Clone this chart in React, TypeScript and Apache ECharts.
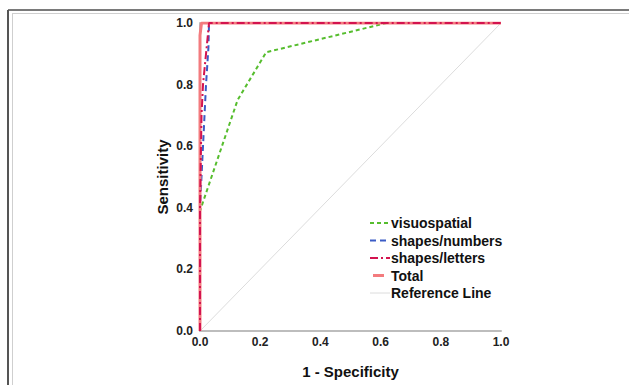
import React, { useEffect, useRef } from "react";
import * as echarts from "echarts";

const seriesNames = ["visuospatial", "shapes/numbers", "shapes/letters", "Total", "Reference Line"];

const visuoX = [0, 0, 0.125, 0.22, 0.62, 1];
const visuoY = [0, 0.39, 0.75, 0.905, 1, 1];

const numbersX = [0, 0, 0.005, 0.01, 0.02, 0.028, 0.03, 1];
const numbersY = [0, 0.4, 0.5, 0.6, 0.8, 0.92, 1, 1];

const lettersX = [0, 0, 0.005, 0.01, 0.02, 0.03, 1];
const lettersY = [0, 0.4, 0.7, 0.8, 0.9, 1, 1];

const totalX = [0, 0, 0.005, 1];
const totalY = [0, 0.96, 1, 1];

const refX = [0, 1];
const refY = [0, 1];

const tickValues = [0, 0.2, 0.4, 0.6, 0.8, 1.0];

const pairs = (xs: number[], ys: number[]) => xs.map((x, i) => [x, ys[i]]);

const styles: Record<string, { color: string; width: number; dash: number[] | null; x1: number; x2: number }> = {
  visuospatial: { color: "#56bd2e", width: 2, dash: [4, 3], x1: 370, x2: 390 },
  "shapes/numbers": { color: "#3b5cc6", width: 2, dash: [6, 4], x1: 370, x2: 390 },
  "shapes/letters": { color: "#d3134f", width: 2, dash: [8, 3, 2, 3], x1: 370, x2: 390 },
  Total: { color: "#f37b7e", width: 3, dash: null, x1: 373, x2: 384 },
  "Reference Line": { color: "#dcdcdc", width: 1, dash: null, x1: 370, x2: 390 },
};

export default function App() {
  const ref = useRef<HTMLDivElement>(null);
  useEffect(() => {
    document.body.style.margin = "0";
    const chart = echarts.init(ref.current!, undefined, { renderer: "svg" });
    const font = "Arial, 'Liberation Sans', sans-serif";
    const axisLabel = {
      color: "#222",
      fontSize: 12,
      fontWeight: "bold" as const,
      fontFamily: font,
      formatter: (v: number) => (tickValues.some((t) => Math.abs(t - v) < 1e-9) ? v.toFixed(1) : ""),
    };
    const legendGraphics: any[] = [];
    seriesNames.forEach((name, i) => {
      const s = styles[name];
      const cy = 223 + i * 17.5;
      legendGraphics.push({
        type: "line",
        shape: { x1: s.x1, y1: cy, x2: s.x2, y2: cy },
        style: { stroke: s.color, lineWidth: s.width, lineDash: s.dash || undefined },
      });
      legendGraphics.push({
        type: "text",
        x: 391,
        y: cy,
        style: {
          text: name,
          fill: "#111",
          fontSize: 14,
          fontWeight: "bold",
          fontFamily: font,
          verticalAlign: "middle",
        },
      });
    });
    const st = (n: string) => styles[n];
    chart.setOption({
      animation: false,
      backgroundColor: "#fff",
      grid: { left: 200, right: 128, top: 23, bottom: 54 },
      xAxis: {
        type: "value",
        min: 0,
        max: 1,
        interval: 0.2,
        name: "1 - Specificity",
        nameLocation: "middle",
        nameGap: 33,
        nameTextStyle: { color: "#111", fontSize: 15, fontWeight: "bold", fontFamily: font },
        axisLine: { lineStyle: { color: "#bdbdbd", width: 2 } },
        axisTick: { show: false },
        splitLine: { show: false },
        axisLabel: { ...axisLabel, margin: 5 },
      },
      yAxis: {
        type: "value",
        min: 0,
        max: 1,
        interval: 0.2,
        name: "Sensitivity",
        nameLocation: "middle",
        nameGap: 30,
        nameTextStyle: { color: "#111", fontSize: 15, fontWeight: "bold", fontFamily: font },
        axisLine: { show: true, lineStyle: { color: "#bdbdbd", width: 2 } },
        axisTick: { show: false },
        splitLine: { show: false },
        axisLabel: { ...axisLabel, margin: 7 },
      },
      graphic: [
        { type: "line", shape: { x1: 8, y1: 10, x2: 629, y2: 10 }, style: { stroke: "#7a7a7a", lineWidth: 2 } },
        { type: "line", shape: { x1: 8, y1: 10, x2: 8, y2: 385 }, style: { stroke: "#555", lineWidth: 2 } },
        { type: "line", shape: { x1: 12, y1: 13.5, x2: 629, y2: 13.5 }, style: { stroke: "#cfcfcf", lineWidth: 1 } },
        { type: "line", shape: { x1: 12.5, y1: 13, x2: 12.5, y2: 385 }, style: { stroke: "#cfcfcf", lineWidth: 1 } },
        ...legendGraphics,
      ],
      series: [
        {
          name: "Reference Line",
          type: "line",
          data: pairs(refX, refY),
          symbol: "none",
          lineStyle: { color: st("Reference Line").color, width: 1 },
          z: 1,
        },
        {
          name: "visuospatial",
          type: "line",
          data: pairs(visuoX, visuoY),
          symbol: "none",
          lineStyle: { color: st("visuospatial").color, width: 2, type: st("visuospatial").dash },
          z: 2,
        },
        {
          name: "shapes/numbers",
          type: "line",
          data: pairs(numbersX, numbersY),
          symbol: "none",
          lineStyle: { color: st("shapes/numbers").color, width: 2, type: st("shapes/numbers").dash },
          z: 3,
        },
        {
          name: "Total",
          type: "line",
          data: pairs(totalX, totalY),
          symbol: "none",
          lineStyle: { color: st("Total").color, width: 3 },
          z: 4,
        },
        {
          name: "shapes/letters",
          type: "line",
          data: pairs(lettersX, lettersY),
          symbol: "none",
          lineStyle: { color: st("shapes/letters").color, width: 2, type: st("shapes/letters").dash },
          z: 5,
        },
      ],
    });
    return () => chart.dispose();
  }, []);
  return <div ref={ref} style={{ width: 629, height: 385 }} />;
}
